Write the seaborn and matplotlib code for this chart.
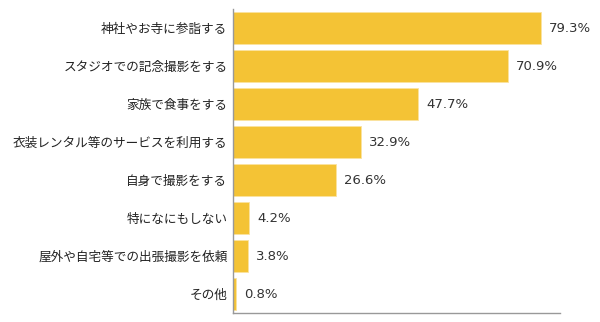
import matplotlib
matplotlib.use("Agg")
import matplotlib.pyplot as plt
import seaborn as sns
import pandas as pd

categories = ["神社やお寺に参詣する", "スタジオでの記念撮影をする", "家族で食事をする",
              "衣装レンタル等のサービスを利用する", "自身で撮影をする", "特になにもしない",
              "屋外や自宅等での出張撮影を依頼", "その他"]
values = [79.3, 70.9, 47.7, 32.9, 26.6, 4.2, 3.8, 0.8]
value_labels = ["79.3%", "70.9%", "47.7%", "32.9%", "26.6%", "4.2%", "3.8%", "0.8%"]

df = pd.DataFrame({"category": categories, "value": values})

sns.set_style("white")
plt.rcParams['font.family'] = ['Noto Sans CJK JP', 'DejaVu Sans']

fig = plt.figure(figsize=(6.0, 3.22), dpi=100)
ax = fig.add_axes([233/600, 9/322, (560-233)/600, (313-9)/322])

sns.barplot(data=df, y="category", x="value", orient="h", color="#F4C335",
            saturation=1, width=0.85, edgecolor="#FBE3A0", linewidth=0.6, ax=ax)

for i, (v, lab) in enumerate(zip(values, value_labels)):
    ax.text(v + 2.0, i, lab, va="center", ha="left", fontsize=9.5,
            color="#333333", family=['DejaVu Sans'])

ax.set_xlim(0, 84.2)
ax.set_ylim(len(categories) - 0.5, -0.5)
ax.set_xlabel("")
ax.set_ylabel("")
ax.set_xticks([])
ax.tick_params(axis="y", length=0, pad=4, labelsize=9.1, labelcolor="#222222")
for s in ["top", "right"]:
    ax.spines[s].set_visible(False)
for s in ["left", "bottom"]:
    ax.spines[s].set_color("#999999")
    ax.spines[s].set_linewidth(1.0)

fig.savefig("out.png", dpi=100)
